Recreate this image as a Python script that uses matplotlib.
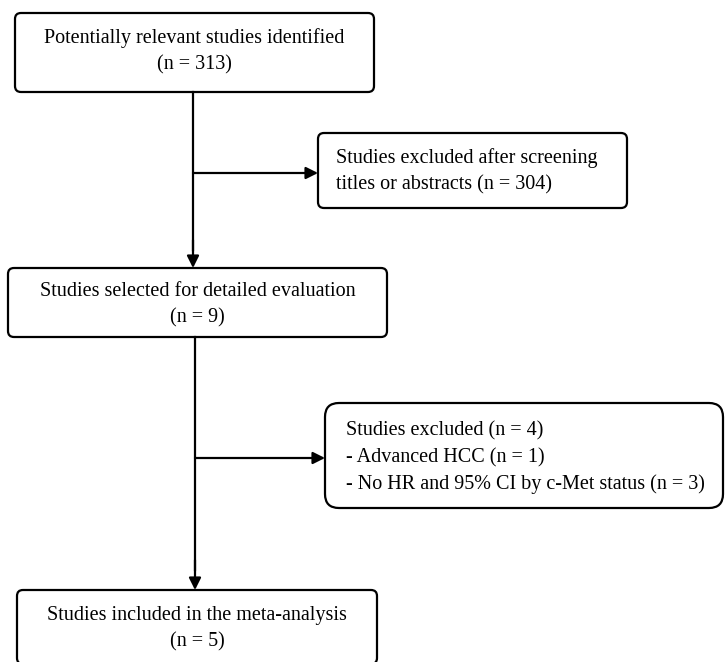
import matplotlib.pyplot as plt
from matplotlib.patches import FancyBboxPatch

# box texts of the flow diagram
main_labels = [
    "Potentially relevant studies identified\n(n = 313)",
    "Studies selected for detailed evaluation\n(n = 9)",
    "Studies included in the meta-analysis\n(n = 5)",
]
side_labels = [
    "Studies excluded after screening\ntitles or abstracts (n = 304)",
    "Studies excluded (n = 4)\n- Advanced HCC (n = 1)\n- No HR and 95% CI by c-Met status (n = 3)",
]

# box geometry in pixels (x0, y0, x1, y1), y from top
main_boxes = [(15, 13, 374, 92), (8, 268, 387, 337), (17, 590, 377, 664)]
side_boxes = [(318, 133, 627, 208), (325, 403, 723, 508)]

plt.rcParams['font.family'] = ['Liberation Serif', 'DejaVu Serif']
fig = plt.figure(figsize=(7.25, 6.62), dpi=100)
ax = fig.add_axes([0, 0, 1, 1])
ax.set_xlim(0, 725)
ax.set_ylim(662, 0)
ax.axis('off')

FS = 14.5
LS = 1.5


def draw_box(b, r):
    x0, y0, x1, y1 = b
    p = FancyBboxPatch((x0 + r, y0 + r), x1 - x0 - 2 * r, y1 - y0 - 2 * r,
                       boxstyle="round,pad=%d" % r, fc='white', ec='black', lw=1.6)
    ax.add_patch(p)


text_y = [51, 305, 629]
for b, lab, ty in zip(main_boxes, main_labels, text_y):
    draw_box(b, 6)
    cx = (b[0] + b[2]) / 2
    ax.text(cx, ty, lab, ha='center', va='center', fontsize=FS, linespacing=LS)

draw_box(side_boxes[0], 6)
ax.text(336, 171, side_labels[0], ha='left', va='center', fontsize=FS, linespacing=LS)
draw_box(side_boxes[1], 14)
ax.text(346, 458, side_labels[1], ha='left', va='center', fontsize=FS, linespacing=LS)

arrow = dict(arrowstyle='-|>', color='black', lw=1.6, mutation_scale=18, shrinkA=0, shrinkB=0)

# vertical main flow
ax.plot([193, 193], [92, 250], color='black', lw=1.6)
ax.annotate('', xy=(193, 268), xytext=(193, 240), arrowprops=arrow)
ax.annotate('', xy=(318, 173), xytext=(193, 173), arrowprops=arrow)

ax.plot([195, 195], [337, 570], color='black', lw=1.6)
ax.annotate('', xy=(195, 590), xytext=(195, 560), arrowprops=arrow)
ax.annotate('', xy=(325, 458), xytext=(195, 458), arrowprops=arrow)

fig.savefig('out.png', dpi=100)
